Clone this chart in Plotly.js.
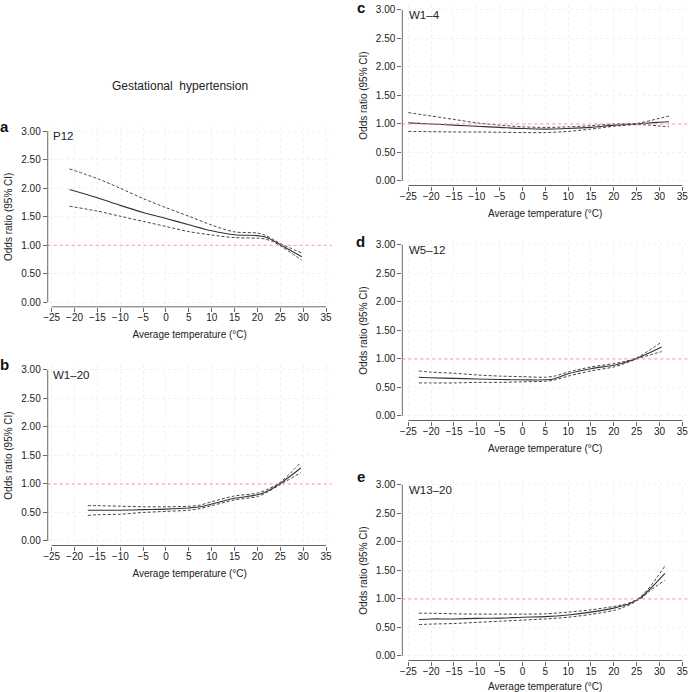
<!DOCTYPE html>
<html>
<head>
<meta charset="utf-8">
<script src="https://cdn.plot.ly/plotly-3.0.1.min.js"></script>
<style>html,body{margin:0;padding:0;background:#fff;}#chart{width:688px;height:692px;}</style>
</head>
<body>
<div id="chart"></div>
<script>
// ---------- DATA ----------
const panelLetters = ["a", "b", "c", "d", "e"];
const panelNames = ["P12", "W1–20", "W1–4", "W5–12", "W13–20"];
const figureTitle = "Gestational  hypertension";
const xTitle = "Average temperature (°C)";
const yTitle = "Odds ratio (95% CI)";
const xTickVals = [-25, -20, -15, -10, -5, 0, 5, 10, 15, 20, 25, 30, 35];
const yTickVals = [0, 0.5, 1, 1.5, 2, 2.5, 3];
const refOR = 1;

// a: P12
const tempA = [-21.1, -15, -10, -5, 0, 5, 10, 15, 20, 21.7, 23.5, 25, 29.7];
const orA   = [1.98, 1.835, 1.70, 1.575, 1.47, 1.36, 1.255, 1.185, 1.17, 1.145, 1.08, 1.01, 0.80];
const upA   = [2.34, 2.17, 2.00, 1.82, 1.66, 1.51, 1.355, 1.235, 1.215, 1.175, 1.10, 1.03, 0.865];
const loA   = [1.685, 1.60, 1.51, 1.42, 1.33, 1.24, 1.18, 1.135, 1.125, 1.11, 1.06, 0.99, 0.74];

// b: W1-20
const tempB = [-17.1, -15, -10, -5, 0, 5, 7.5, 10, 15, 20, 22, 25, 29.5];
const orB   = [0.54, 0.54, 0.54, 0.55, 0.56, 0.58, 0.60, 0.65, 0.75, 0.81, 0.87, 1.01, 1.28];
const upB   = [0.62, 0.62, 0.61, 0.60, 0.60, 0.61, 0.63, 0.69, 0.79, 0.84, 0.90, 1.03, 1.38];
const loB   = [0.45, 0.46, 0.47, 0.50, 0.52, 0.54, 0.57, 0.62, 0.72, 0.78, 0.85, 0.99, 1.20];

// c: W1-4
const tempC = [-25, -20, -15, -10, -5, 0, 5, 10, 15, 20, 25, 28, 30, 32.1];
const orC   = [1.02, 1.00, 0.98, 0.96, 0.94, 0.92, 0.91, 0.92, 0.94, 0.98, 1.00, 1.02, 1.03, 1.04];
const upC   = [1.20, 1.14, 1.08, 1.02, 0.98, 0.95, 0.94, 0.95, 0.97, 1.00, 1.01, 1.06, 1.10, 1.14];
const loC   = [0.87, 0.865, 0.86, 0.86, 0.855, 0.85, 0.85, 0.87, 0.91, 0.96, 0.99, 0.98, 0.965, 0.95];

// d: W5-12
const tempD = [-22.7, -20, -15, -10, -5, 0, 5, 7, 10, 15, 20, 22, 25, 30.5];
const orD   = [0.68, 0.67, 0.66, 0.65, 0.64, 0.635, 0.635, 0.655, 0.74, 0.83, 0.89, 0.93, 1.01, 1.21];
const upD   = [0.79, 0.77, 0.75, 0.72, 0.70, 0.69, 0.68, 0.70, 0.77, 0.86, 0.92, 0.95, 1.02, 1.30];
const loD   = [0.58, 0.58, 0.58, 0.59, 0.59, 0.60, 0.61, 0.63, 0.70, 0.79, 0.86, 0.91, 1.00, 1.13];

// e: W13-20
const tempE = [-22.7, -20, -15, -10, -5, 0, 5, 10, 15, 20, 22, 24, 25, 26, 28, 31.2];
const orE   = [0.64, 0.65, 0.65, 0.66, 0.665, 0.68, 0.69, 0.72, 0.77, 0.84, 0.88, 0.94, 0.98, 1.03, 1.18, 1.45];
const upE   = [0.75, 0.75, 0.74, 0.735, 0.735, 0.735, 0.74, 0.77, 0.81, 0.87, 0.90, 0.95, 0.99, 1.05, 1.22, 1.58];
const loE   = [0.55, 0.56, 0.57, 0.59, 0.61, 0.63, 0.65, 0.68, 0.73, 0.80, 0.85, 0.92, 0.97, 1.01, 1.15, 1.33];

// ---------- LAYOUT GEOMETRY (pixels) ----------
const W = 688, H = 692;
const series = [
  {t: tempA, or: orA, up: upA, lo: loA},
  {t: tempB, or: orB, up: upB, lo: loB},
  {t: tempC, or: orC, up: upC, lo: loC},
  {t: tempD, or: orD, up: upD, lo: loD},
  {t: tempE, or: orE, up: upE, lo: loE}
];
const geo = [
  {xm25: 51.7,  x35: 326.0, y0: 302.3, y3: 131.3, xr: [-25.87, 36.22], lx: 4, ly: 126},
  {xm25: 51.7,  x35: 326.0, y0: 541.0, y3: 370.0, xr: [-25.87, 36.22], lx: 4, ly: 364},
  {xm25: 408.3, x35: 682.3, y0: 181.0, y3: 10.0,  xr: [-26.31, 36.25], lx: 361, ly: 7.5},
  {xm25: 408.3, x35: 682.3, y0: 416.0, y3: 245.0, xr: [-26.31, 36.25], lx: 360.5, ly: 242},
  {xm25: 408.3, x35: 682.3, y0: 656.0, y3: 485.0, xr: [-26.31, 36.25], lx: 361, ly: 476}
];
const yr = [-0.079, 3.079];
const FONT = "Liberation Sans, Arial, Helvetica, sans-serif";
const GRID = "#f1f1f1";

const traces = [];
const layout = {
  width: W, height: H,
  margin: {l: 0, r: 0, t: 0, b: 0},
  paper_bgcolor: "#fff", plot_bgcolor: "#fff",
  showlegend: false,
  font: {family: FONT, size: 10, color: "#222"},
  shapes: [], annotations: []
};

geo.forEach((g, i) => {
  const n = i === 0 ? "" : String(i + 1);
  const xs = (g.x35 - g.xm25) / 60;
  const ys = (g.y0 - g.y3) / 3;
  const leftPx = g.xm25 + (g.xr[0] + 25) * xs;
  const rightPx = g.xm25 + (g.xr[1] + 25) * xs;
  const botPx = g.y0 - yr[0] * ys;
  const topPx = g.y0 - yr[1] * ys;
  const xa = "x" + n, ya = "y" + n;

  layout["xaxis" + n] = {
    domain: [leftPx / W, Math.min(1, rightPx / W)], range: g.xr, anchor: ya,
    tickmode: "array", tickvals: xTickVals, ticks: "outside", ticklen: 4, tickcolor: "#666",
    ticklabelstandoff: -3,
    showline: false, zeroline: false, showgrid: true, gridcolor: GRID, griddash: "dot", gridwidth: 1,
    tickfont: {size: 10, color: "#222"}, automargin: false, fixedrange: true, ticklabeloverflow: "allow",
    title: {text: xTitle, font: {size: 10, color: "#222"}, standoff: 9}
  };
  layout["yaxis" + n] = {
    domain: [1 - botPx / H, 1 - topPx / H], range: yr, anchor: xa,
    tickmode: "array", tickvals: yTickVals, tickformat: ".2f", ticks: "outside", ticklen: 4, tickcolor: "#666",
    showline: false, zeroline: false, showgrid: true, gridcolor: GRID, griddash: "dot", gridwidth: 1,
    tickfont: {size: 10, color: "#222"}, automargin: false, fixedrange: true, ticklabeloverflow: "allow",
    title: {text: yTitle, font: {size: 10, color: "#222"}, standoff: 6}
  };

  const s = series[i];
  traces.push({x: s.t, y: s.up, xaxis: xa, yaxis: ya, mode: "lines", type: "scatter",
    line: {color: "#444", width: 1, dash: "3px,2px", shape: "spline", smoothing: 0.8}, hoverinfo: "skip"});
  traces.push({x: s.t, y: s.lo, xaxis: xa, yaxis: ya, mode: "lines", type: "scatter",
    line: {color: "#444", width: 1, dash: "3px,2px", shape: "spline", smoothing: 0.8}, hoverinfo: "skip"});
  traces.push({x: s.t, y: s.or, xaxis: xa, yaxis: ya, mode: "lines", type: "scatter",
    line: {color: "#333", width: 1.1, shape: "spline", smoothing: 0.8}, hoverinfo: "skip"});

  // reference line at OR = 1
  layout.shapes.push({type: "line", layer: "above", xref: xa + " domain", yref: ya,
    x0: 0, x1: 1, y0: refOR, y1: refOR, line: {color: "#ff8fc4", width: 1, dash: "dot"}});
  // axis lines (R style: from first to last tick)
  layout.shapes.push({type: "line", layer: "above", xref: xa, yref: ya + " domain",
    x0: xTickVals[0], x1: xTickVals[xTickVals.length - 1], y0: 0, y1: 0, line: {color: "#666", width: 1}});
  layout.shapes.push({type: "line", layer: "above", xref: xa + " domain", yref: ya,
    x0: 0, x1: 0, y0: yTickVals[0], y1: yTickVals[yTickVals.length - 1], line: {color: "#666", width: 1}});

  // panel letter
  layout.annotations.push({text: "<b>" + panelLetters[i] + "</b>", xref: "paper", yref: "paper",
    x: g.lx / W, y: 1 - g.ly / H, xanchor: "center", yanchor: "middle", showarrow: false,
    font: {size: 15, color: "#111", family: FONT}});
  // panel name
  layout.annotations.push({text: panelNames[i], xref: "paper", yref: "paper",
    x: (g.xm25 - 1) / W, y: 1 - (g.y3 + 4.5) / H, xanchor: "left", yanchor: "middle", showarrow: false,
    font: {size: 11.5, color: "#222", family: FONT}});
});

layout.annotations.push({text: figureTitle, xref: "paper", yref: "paper",
  x: 180 / W, y: 1 - 85.7 / H, xanchor: "center", yanchor: "middle", showarrow: false,
  font: {size: 12, color: "#222", family: FONT}});

Plotly.newPlot("chart", traces, layout, {displayModeBar: false, staticPlot: true});
</script>
</body>
</html>
